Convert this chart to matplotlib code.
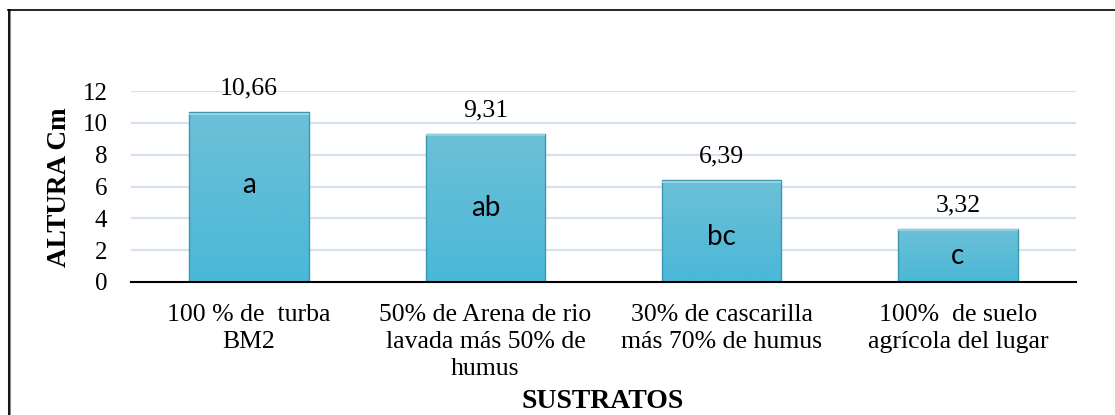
import matplotlib
matplotlib.use("Agg")
import matplotlib.pyplot as plt
import numpy as np
from matplotlib.lines import Line2D
from matplotlib.patches import Rectangle
from matplotlib.colors import LinearSegmentedColormap

# Data
categories = [
    "100 % de  turba\nBM2",
    "50% de Arena de rio\nlavada más 50% de\nhumus",
    "30% de cascarilla\nmás 70% de humus",
    "100%  de suelo\nagrícola del lugar",
]
heights = [10.66, 9.31, 6.39, 3.32]
value_labels = ["10,66", "9,31", "6,39", "3,32"]
groups = ["a", "ab", "bc", "c"]
yticks = [0, 2, 4, 6, 8, 10, 12]

W, H = 1115, 415
fig = plt.figure(figsize=(W / 100, H / 100), dpi=100)
fig.patch.set_facecolor("white")

serif = "Liberation Serif"

ax = fig.add_axes([131 / W, 1 - 282 / H, (1076 - 131) / W, (282 - 91) / H])
ax.set_xlim(-0.5, len(categories) - 0.5)
ax.set_ylim(0, 12)

# horizontal gridlines
for t in yticks[1:]:
    ax.axhline(t, color="#d6e1f0", lw=1.6, zorder=0)

for s in ["left", "right", "top"]:
    ax.spines[s].set_visible(False)
ax.spines["bottom"].set_color("black")
ax.spines["bottom"].set_linewidth(1.5)
ax.spines["bottom"].set_zorder(5)

ax.set_yticks(yticks)
ax.set_yticklabels([str(t) for t in yticks], fontfamily=serif, fontsize=18)
ax.tick_params(axis="y", length=0, pad=17)
ax.set_xticks(range(len(categories)))
ax.set_xticklabels(categories, fontfamily=serif, fontsize=18.5, linespacing=1.3)
ax.tick_params(axis="x", length=0, pad=16)

# bars with a vertical gradient fill
cmap = LinearSegmentedColormap.from_list("barfill", ["#6cc0d7", "#4ab8d7"])
grad = np.linspace(0, 1, 256).reshape(-1, 1)
bw = 0.505
bars = ax.bar(range(len(heights)), heights, width=bw, color="none",
              edgecolor="#3d97ae", linewidth=1.0, zorder=3)
for b in bars:
    x0, y0 = b.get_x(), b.get_y()
    w, h = b.get_width(), b.get_height()
    im = ax.imshow(grad, cmap=cmap, aspect="auto",
                   extent=[x0, x0 + w, 0, h], origin="upper", zorder=2)
    clip = Rectangle((x0, y0), w, h, transform=ax.transData)
    im.set_clip_path(clip)
    # light bevel along the top edge
    ax.plot([x0, x0 + w], [h - 0.08, h - 0.08], color="#9fd8e8", lw=1.2,
            zorder=3, solid_capstyle="butt")

ax.set_xlim(-0.5, len(categories) - 0.5)
ax.set_ylim(0, 12)

# value labels above bars
for i, (h, lab) in enumerate(zip(heights, value_labels)):
    ax.annotate(lab, (i, h), xytext=(0, 17), textcoords="offset points",
                ha="center", va="center", fontfamily=serif, fontsize=18.5,
                zorder=6)

# significance letters inside bars
letter_frac = [0.57, 0.5, 0.44, 0.5]
for i, (h, g, f) in enumerate(zip(heights, groups, letter_frac)):
    ax.text(i, h * f, g, ha="center", va="center", fontfamily="Lato",
            fontsize=20, color="black", zorder=6)

fig.text(60 / W, 1 - 187 / H, "ALTURA Cm", rotation=90, ha="center",
         va="center", fontfamily=serif, fontsize=19.5, fontweight="bold")
fig.text(603 / W, 1 - 401 / H, "SUSTRATOS", ha="center", va="center",
         fontfamily=serif, fontsize=20, fontweight="bold")

# outer frame (top and left edges)
fig.add_artist(Line2D([8.5 / W, 8.5 / W], [0, 1 - 10 / H], color="#888888",
                      lw=2.2, transform=fig.transFigure))
fig.add_artist(Line2D([9 / W, 9 / W], [0, 1 - 10 / H], color="black",
                      lw=1.2, transform=fig.transFigure))
fig.add_artist(Line2D([8 / W, 1], [1 - 10.5 / H, 1 - 10.5 / H], color="black",
                      lw=1.2, transform=fig.transFigure))

fig.savefig("out.png", dpi=100, facecolor="white")
